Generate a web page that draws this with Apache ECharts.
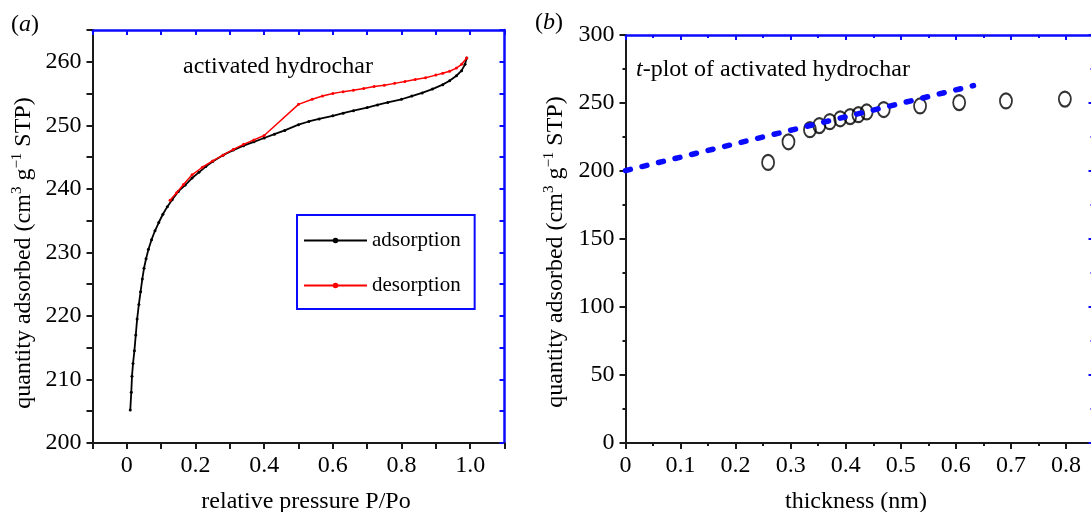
<!DOCTYPE html>
<html>
<head>
<meta charset="utf-8">
<script src="https://cdn.jsdelivr.net/npm/echarts@6/dist/echarts.min.js"></script>
<style>
  html, body { margin: 0; padding: 0; background: #fff; }
  #chart { width: 1091px; height: 512px; }
</style>
</head>
<body>
<div id="chart"></div>
<script>
// (a) N2 isotherm of the activated hydrochar
const adsorptionP = [0.010, 0.013, 0.015, 0.018, 0.022, 0.026, 0.030, 0.035, 0.040, 0.045,
  0.050, 0.056, 0.063, 0.072, 0.082, 0.093, 0.105, 0.118, 0.132, 0.150,
  0.170, 0.190, 0.210, 0.230, 0.250, 0.280, 0.310, 0.340, 0.370, 0.400,
  0.430, 0.460, 0.500, 0.530, 0.560, 0.600, 0.630, 0.660, 0.700, 0.730,
  0.760, 0.800, 0.830, 0.860, 0.890, 0.920, 0.940, 0.960, 0.975, 0.985, 0.990];
const adsorptionV = [205.2, 208.0, 210.5, 212.5, 214.5, 217.0, 219.5, 221.8, 223.8, 225.8,
  227.5, 229.0, 230.5, 232.0, 233.4, 234.7, 236.0, 237.2, 238.3, 239.6,
  240.6, 241.7, 242.6, 243.5, 244.3, 245.3, 246.1, 246.8, 247.4, 248.0,
  248.6, 249.2, 250.1, 250.6, 251.0, 251.5, 251.9, 252.3, 252.8, 253.2,
  253.6, 254.1, 254.6, 255.1, 255.7, 256.4, 257.0, 257.8, 258.6, 259.6, 260.6];

const desorptionP = [0.990, 0.975, 0.960, 0.940, 0.920, 0.900, 0.870, 0.840, 0.810, 0.780,
  0.750, 0.720, 0.690, 0.660, 0.630, 0.600, 0.570, 0.540, 0.500, 0.400,
  0.370, 0.340, 0.310, 0.280, 0.250, 0.220, 0.190, 0.165, 0.145, 0.126];
const desorptionV = [260.6, 259.6, 259.0, 258.5, 258.2, 257.9, 257.5, 257.2, 256.9, 256.6,
  256.3, 256.1, 255.8, 255.5, 255.3, 255.0, 254.6, 254.1, 253.3, 248.4,
  247.7, 247.0, 246.2, 245.3, 244.4, 243.4, 242.2, 240.7, 239.4, 238.2];

const pressureTickValues = [0, 0.2, 0.4, 0.6, 0.8, 1.0];
const pressureTickLabels = ['0', '0.2', '0.4', '0.6', '0.8', '1.0'];
const isothermTickValues = [200, 210, 220, 230, 240, 250, 260];
const isothermTickLabels = ['200', '210', '220', '230', '240', '250', '260'];

// (b) t-plot
const thicknessT = [0.259, 0.296, 0.335, 0.352, 0.371, 0.390, 0.408, 0.423, 0.438, 0.469,
  0.535, 0.606, 0.691, 0.798];
const tplotV = [206.3, 221.5, 230.4, 233.4, 236.3, 238.4, 240.0, 241.4, 243.4, 245.2,
  247.8, 250.3, 251.5, 252.9];
const fitT = [0, 0.632];
const fitV = [200.3, 262.8];

const thicknessTickValues = [0, 0.1, 0.2, 0.3, 0.4, 0.5, 0.6, 0.7, 0.8];
const thicknessTickLabels = ['0', '0.1', '0.2', '0.3', '0.4', '0.5', '0.6', '0.7', '0.8'];
const tplotTickValues = [0, 50, 100, 150, 200, 250, 300];
const tplotTickLabels = ['0', '50', '100', '150', '200', '250', '300'];

const FONT = 'Liberation Serif';
const BLACK = '#1a1a1a';
const BLUE = '#0a0aff';

function zip(xs, ys) { return xs.map((x, i) => [x, ys[i]]); }
function labeler(values, labels) {
  return v => {
    const i = values.findIndex(t => Math.abs(t - v) < 1e-6);
    return i < 0 ? '' : labels[i];
  };
}

const tickFont = { fontFamily: FONT, fontSize: 24, color: '#000' };

function bottomAxis(grid, min, max, interval, fmt, minor) {
  return {
    type: 'value', gridIndex: grid, position: 'bottom', min, max, interval,
    axisLine: { show: true, onZero: false, lineStyle: { color: BLACK, width: 2 } },
    axisTick: { show: true, inside: false, length: 6, lineStyle: { color: BLACK, width: 2 } },
    minorTick: { show: !!minor, splitNumber: 2, length: 3, lineStyle: { color: BLACK, width: 2 } },
    axisLabel: Object.assign({ margin: 11, formatter: fmt, showMinLabel: true, showMaxLabel: true }, tickFont),
    splitLine: { show: false }
  };
}
function leftAxis(grid, min, max, interval, fmt, minor) {
  return {
    type: 'value', gridIndex: grid, position: 'left', min, max, interval,
    axisLine: { show: true, onZero: false, lineStyle: { color: BLACK, width: 2 } },
    axisTick: { show: true, inside: false, length: 6, lineStyle: { color: BLACK, width: 2 } },
    minorTick: { show: !!minor, splitNumber: 2, length: 3, lineStyle: { color: BLACK, width: 2 } },
    axisLabel: Object.assign({ margin: 11, formatter: fmt, showMinLabel: true, showMaxLabel: true }, tickFont),
    splitLine: { show: false }
  };
}
function frameAxis(grid, pos, min, max, interval, minor) {
  return {
    type: 'value', gridIndex: grid, position: pos, min, max, interval,
    axisLine: { show: true, onZero: false, lineStyle: { color: BLUE, width: 2.5 } },
    axisTick: { show: true, inside: true, length: 5, lineStyle: { color: BLUE, width: 2 } },
    minorTick: { show: !!minor, splitNumber: 2, length: 3, lineStyle: { color: BLUE, width: 2 } },
    axisLabel: { show: false },
    splitLine: { show: false }
  };
}

const titleRich = {
  n: { fontFamily: FONT, fontSize: 24, lineHeight: 28, color: '#000' },
  sup: { fontFamily: FONT, fontSize: 15, lineHeight: 15, verticalAlign: 'top', color: '#000' },
  it: { fontFamily: FONT, fontSize: 24, lineHeight: 28, fontStyle: 'italic', color: '#000' }
};
const yTitle = '{n|quantity adsorbed (cm}{sup|3}{n| g}{sup|\u22121}{n| STP)}';

function textEl(x, y, text, align, rotation) {
  return {
    type: 'text', x, y, rotation: rotation || 0, z: 20,
    style: {
      text, rich: titleRich, fontFamily: FONT, fontSize: 24, fill: '#000',
      align: align || 'left', verticalAlign: 'middle'
    }
  };
}

const chart = echarts.init(document.getElementById('chart'), null, { renderer: 'canvas' });

chart.setOption({
  animation: false,
  backgroundColor: '#fff',
  grid: [
    { left: 92.5, top: 30, width: 412, height: 413, containLabel: false, outerBoundsMode: 'none' },
    { left: 625.5, top: 35, width: 468, height: 408, containLabel: false, outerBoundsMode: 'none' }
  ],
  xAxis: [
    bottomAxis(0, -0.1, 1.1, 0.1, labeler(pressureTickValues, pressureTickLabels), false),
    frameAxis(0, 'top', -0.1, 1.1, 0.1, false),
    bottomAxis(1, 0, 0.85, 0.1, labeler(thicknessTickValues, thicknessTickLabels), true),
    frameAxis(1, 'top', 0, 0.85, 0.1, true)
  ],
  yAxis: [
    leftAxis(0, 200, 265, 5, labeler(isothermTickValues, isothermTickLabels), false),
    frameAxis(0, 'right', 200, 265, 5, false),
    leftAxis(1, 0, 300, 50, labeler(tplotTickValues, tplotTickLabels), true),
    frameAxis(1, 'right', 0, 300, 50, true)
  ],
  legend: {
    orient: 'vertical', left: 297, top: 215,
    data: ['adsorption', 'desorption'],
    backgroundColor: '#fff',
    borderColor: BLUE, borderWidth: 2, borderRadius: 0,
    padding: [15, 14, 13, 6],
    itemWidth: 63, itemHeight: 7, itemGap: 24,
    textStyle: { fontFamily: FONT, fontSize: 21, color: '#000' }
  },
  series: [
    {
      name: 'adsorption', type: 'line', xAxisIndex: 0, yAxisIndex: 0,
      data: zip(adsorptionP, adsorptionV),
      symbol: 'circle', symbolSize: 3, showSymbol: true,
      color: '#000', lineStyle: { color: '#000', width: 1.8 }, itemStyle: { color: '#000' },
      z: 3
    },
    {
      name: 'desorption', type: 'line', xAxisIndex: 0, yAxisIndex: 0,
      data: zip(desorptionP, desorptionV),
      symbol: 'circle', symbolSize: 3, showSymbol: true,
      color: '#ff0000', lineStyle: { color: '#ff0000', width: 1.5 }, itemStyle: { color: '#ff0000' },
      z: 4
    },
    {
      name: 't-plot', type: 'scatter', xAxisIndex: 2, yAxisIndex: 2,
      data: zip(thicknessT, tplotV),
      symbol: 'circle', symbolSize: [12, 15],
      itemStyle: { color: 'rgba(0,0,0,0)', borderColor: '#000', borderWidth: 2 },
      z: 3
    },
    {
      name: 'linear fit', type: 'line', xAxisIndex: 2, yAxisIndex: 2,
      data: zip(fitT, fitV),
      symbol: 'none',
      lineStyle: { color: BLUE, width: 5.5, type: [5, 12], cap: 'round' },
      z: 4
    }
  ],
  graphic: [
    textEl(11, 25, '({it|a}{n|)}', 'left'),
    textEl(535, 23, '({it|b}{n|)}', 'left'),
    textEl(183, 67, '{n|activated hydrochar}', 'left'),
    textEl(636, 70, '{it|t}{n|-plot of activated hydrochar}', 'left'),
    textEl(306, 502, '{n|relative pressure P/Po}', 'center'),
    textEl(856, 502, '{n|thickness (nm)}', 'center'),
    textEl(24, 253, yTitle, 'center', Math.PI / 2),
    textEl(556, 252, yTitle, 'center', Math.PI / 2)
  ]
});
</script>
</body>
</html>
